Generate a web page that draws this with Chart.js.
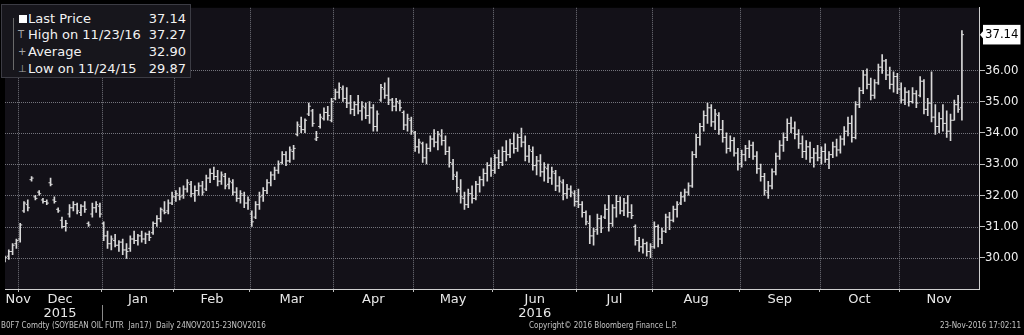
<!DOCTYPE html>
<html>
<head>
<meta charset="utf-8">
<script src="https://cdn.jsdelivr.net/npm/chart.js@4.4.1/dist/chart.umd.min.js"></script>
<style>
  html, body { margin: 0; padding: 0; background: #000; }
  #wrap { position: relative; width: 1024px; height: 335px; overflow: hidden; background: #000; }
  #legend {
    position: absolute; left: 1px; top: 4px; width: 188px; height: 72px;
    background: #17161c; border: 1px solid #3c3c44;
    font: 13px "DejaVu Sans", sans-serif; color: #f2f2f2;
  }
  .row { position: absolute; left: 0; right: 0; height: 16px; line-height: 16px; }
  .lab { position: absolute; left: 26px; }
  .val { position: absolute; right: 4px; }
  .ic { position: absolute; left: 16px; font-size: 10px; color: #a8a8a8; }
  .sq { position: absolute; left: 17px; top: 4px; width: 8px; height: 8px; background: #fff; }
  #stem { position: absolute; left: 11px; top: 13px; width: 1px; height: 52px; background: #6a6a6a; }
  .foot { position: absolute; top: 321px; font: 8px "DejaVu Sans Condensed", "DejaVu Sans", sans-serif; color: #c4c4c4; white-space: pre; }
</style>
</head>
<body>
<div id="wrap">
  <canvas id="chart" width="1024" height="335"></canvas>
  <div id="legend">
    <div id="stem"></div>
    <div class="row" style="top:6px"><span class="sq"></span><span class="lab">Last Price</span><span class="val" id="vLast"></span></div>
    <div class="row" style="top:22px"><span class="ic">T</span><span class="lab" id="lHigh"></span><span class="val" id="vHigh"></span></div>
    <div class="row" style="top:39px"><span class="ic">+</span><span class="lab">Average</span><span class="val" id="vAvg"></span></div>
    <div class="row" style="top:56px"><span class="ic">&#8869;</span><span class="lab" id="lLow"></span><span class="val" id="vLow"></span></div>
  </div>
  <div class="foot" style="left:1px">B0F7 Comdty (SOYBEAN OIL FUTR  Jan17)  Daily 24NOV2015-23NOV2016</div>
  <div class="foot" style="left:529px">Copyright© 2016 Bloomberg Finance L.P.</div>
  <div class="foot" style="right:3px">23-Nov-2016 17:02:11</div>
</div>
<script>
// month axis: first trading-day index of each month, and the label shown for it
const monthStarts = [0, 4, 26, 45, 65, 87, 108, 129, 151, 171, 194, 215, 236];
const monthLabels = ["Nov", ["Dec", "2015"], "Jan", "Feb", "Mar", "Apr", "May", ["Jun", "2016"], "Jul", "Aug", "Sep", "Oct", "Nov"];
const yearStart = 26;

// legend figures
const lastPrice = 37.14;
const highPrice = 37.27;
const avgPrice = 32.90;
const lowPrice = 29.87;
const highDate = "11/23/16";
const lowDate = "11/24/15";

// daily bars, 24 Nov 2015 .. 23 Nov 2016
const opens = [
  29.95, 30.05, 30.20, 30.45, 30.60, 31.50, 31.70, 32.50, 31.95, 32.10,
  31.85, 31.80, 32.40, 31.85, 31.55, 31.20, 31.00, 31.40, 31.60, 31.70,
  31.45, 31.65, 31.10, 31.40, 31.60, 31.65, 31.10, 30.70, 30.45, 30.55,
  30.40, 30.50, 30.25, 30.30, 30.60, 30.55, 30.70, 30.60, 30.75, 30.80,
  31.10, 31.25, 31.50, 31.50, 31.75, 31.95, 32.00, 32.00, 32.20, 32.35,
  32.05, 32.15, 32.30, 32.20, 32.55, 32.70, 32.60, 32.45, 32.60, 32.35,
  32.40, 32.10, 31.90, 32.00, 31.75, 31.40, 31.30, 31.70, 32.00, 32.15,
  32.40, 32.65, 32.80, 33.05, 33.30, 33.10, 33.40, 33.95, 34.20, 34.10,
  34.60, 34.70, 33.80, 34.20, 34.45, 34.65, 34.40, 35.10, 35.30, 35.40,
  35.10, 34.95, 34.75, 34.90, 34.70, 34.80, 34.55, 34.80, 34.20, 35.05,
  35.40, 35.20, 35.05, 34.85, 34.95, 34.65, 34.25, 34.40, 34.00, 33.55,
  33.65, 33.20, 33.50, 33.80, 33.70, 33.90, 33.75, 33.40, 33.00, 32.60,
  32.20, 31.90, 31.70, 32.05, 31.90, 32.35, 32.50, 32.70, 32.95, 32.80,
  33.20, 33.05, 33.40, 33.30, 33.65, 33.50, 33.85, 33.70, 33.25, 33.40,
  32.95, 33.10, 32.75, 32.85, 32.55, 32.70, 32.30, 32.40, 32.05, 32.20,
  32.05, 31.80, 31.70, 31.45, 31.10, 30.70, 30.90, 31.25, 31.30, 31.55,
  31.10, 31.60, 31.80, 31.50, 31.75, 31.45, 31.00, 30.55, 30.35, 30.45,
  30.20, 30.35, 31.00, 30.60, 30.85, 31.30, 31.20, 31.55, 31.75, 31.95,
  32.10, 32.30, 33.30, 33.85, 34.20, 34.55, 34.80, 34.35, 34.55, 34.10,
  33.85, 33.50, 33.75, 33.35, 33.00, 33.30, 33.50, 33.60, 33.25, 32.85,
  32.60, 32.10, 32.30, 32.75, 33.25, 33.60, 33.85, 34.30, 34.15, 33.95,
  33.65, 33.40, 33.55, 33.20, 33.35, 33.20, 33.40, 33.15, 33.30, 33.55,
  33.45, 33.80, 34.05, 34.30, 33.85, 34.90, 35.35, 35.85, 35.55, 35.20,
  35.60, 36.10, 36.30, 35.85, 35.55, 35.80, 35.40, 35.05, 35.30, 35.00,
  35.25, 35.20, 35.65, 34.75, 34.95, 34.50, 34.20, 34.45, 34.30, 34.05,
  34.40, 34.90, 34.80
];
const highs = [
  30.05, 30.25, 30.45, 30.60, 31.10, 31.80, 31.85, 32.60, 32.00, 32.15,
  31.90, 31.85, 32.55, 31.95, 31.60, 31.30, 31.20, 31.70, 31.80, 31.75,
  31.70, 31.80, 31.15, 31.75, 31.80, 31.75, 31.15, 30.85, 30.70, 30.75,
  30.55, 30.60, 30.45, 30.70, 30.85, 30.75, 30.85, 30.80, 30.85, 31.15,
  31.35, 31.60, 31.80, 31.85, 32.10, 32.15, 32.25, 32.30, 32.50, 32.45,
  32.30, 32.40, 32.45, 32.65, 32.85, 32.90, 32.80, 32.75, 32.70, 32.55,
  32.50, 32.25, 32.15, 32.10, 31.95, 31.50, 31.80, 32.10, 32.25, 32.50,
  32.75, 32.90, 33.10, 33.40, 33.40, 33.55, 33.60, 34.35, 34.50, 34.45,
  34.95, 34.75, 34.05, 34.60, 34.80, 34.85, 35.10, 35.40, 35.60, 35.50,
  35.45, 35.20, 35.00, 35.20, 35.00, 34.95, 35.00, 34.90, 34.70, 35.55,
  35.60, 35.76, 35.10, 35.10, 35.05, 34.70, 34.60, 34.50, 34.05, 33.80,
  33.70, 33.65, 33.90, 34.10, 34.05, 34.10, 33.90, 33.55, 33.15, 32.75,
  32.50, 32.10, 32.20, 32.30, 32.45, 32.60, 32.85, 33.05, 33.20, 33.30,
  33.45, 33.55, 33.75, 33.80, 34.00, 33.95, 34.15, 33.90, 33.60, 33.55,
  33.25, 33.30, 33.05, 33.00, 32.90, 32.80, 32.60, 32.50, 32.35, 32.30,
  32.15, 32.20, 31.80, 31.50, 31.35, 30.95, 31.40, 31.35, 31.70, 32.00,
  31.70, 32.00, 31.95, 31.90, 32.00, 31.70, 31.05, 30.65, 30.60, 30.50,
  30.45, 31.15, 31.05, 30.95, 31.40, 31.45, 31.65, 31.80, 32.10, 32.20,
  32.40, 33.40, 33.95, 34.30, 34.70, 34.95, 34.90, 34.75, 34.65, 34.40,
  34.00, 33.90, 33.85, 33.50, 33.45, 33.60, 33.75, 33.70, 33.40, 33.00,
  32.70, 32.45, 32.85, 33.35, 33.75, 34.00, 34.45, 34.50, 34.35, 34.10,
  33.90, 33.75, 33.70, 33.50, 33.60, 33.55, 33.65, 33.40, 33.70, 33.80,
  33.90, 34.20, 34.50, 34.55, 35.00, 35.45, 36.00, 36.05, 35.75, 35.70,
  36.20, 36.50, 36.35, 36.10, 35.95, 35.90, 35.60, 35.45, 35.35, 35.45,
  35.35, 35.80, 35.70, 35.10, 35.95, 34.90, 34.65, 34.90, 34.70, 34.60,
  35.05, 35.20, 37.27
];
const lows = [
  29.87, 29.95, 30.10, 30.30, 30.50, 31.45, 31.50, 32.45, 31.85, 32.00,
  31.75, 31.70, 32.30, 31.75, 31.45, 30.95, 30.85, 31.30, 31.50, 31.40,
  31.35, 31.45, 31.00, 31.30, 31.45, 31.30, 30.55, 30.30, 30.25, 30.35,
  30.20, 30.10, 29.98, 30.20, 30.45, 30.40, 30.50, 30.45, 30.55, 30.75,
  31.00, 31.15, 31.40, 31.40, 31.70, 31.80, 31.85, 31.90, 32.10, 31.95,
  31.80, 32.00, 32.00, 32.15, 32.40, 32.50, 32.30, 32.35, 32.20, 32.20,
  32.00, 31.80, 31.75, 31.60, 31.55, 31.00, 31.25, 31.55, 31.80, 32.05,
  32.30, 32.50, 32.70, 33.00, 32.95, 33.05, 33.15, 33.90, 34.00, 34.00,
  34.55, 34.20, 33.75, 34.15, 34.40, 34.40, 34.35, 35.05, 35.10, 35.00,
  34.80, 34.60, 34.55, 34.60, 34.40, 34.45, 34.30, 34.05, 34.05, 35.00,
  35.10, 34.90, 34.70, 34.70, 34.70, 34.10, 34.05, 33.95, 33.40, 33.35,
  33.05, 33.00, 33.40, 33.55, 33.45, 33.60, 33.30, 32.90, 32.50, 32.10,
  31.75, 31.55, 31.60, 31.75, 31.85, 32.10, 32.30, 32.45, 32.60, 32.70,
  32.85, 32.95, 33.10, 33.20, 33.35, 33.40, 33.55, 33.10, 33.05, 32.80,
  32.65, 32.60, 32.45, 32.40, 32.35, 32.15, 32.10, 31.85, 31.90, 31.95,
  31.65, 31.60, 31.30, 31.05, 30.45, 30.40, 30.75, 30.80, 31.25, 30.85,
  31.00, 31.30, 31.40, 31.35, 31.30, 31.25, 30.40, 30.20, 30.15, 30.05,
  30.00, 30.30, 30.35, 30.45, 30.80, 30.90, 31.15, 31.30, 31.70, 31.80,
  32.00, 32.25, 33.20, 33.60, 34.05, 34.30, 34.20, 34.10, 33.95, 33.70,
  33.35, 33.40, 33.25, 32.80, 32.90, 33.10, 33.20, 33.15, 32.70, 32.45,
  32.00, 31.90, 32.20, 32.65, 33.15, 33.40, 33.75, 34.00, 33.80, 33.50,
  33.20, 33.15, 33.05, 32.90, 33.10, 33.00, 33.05, 32.85, 33.20, 33.25,
  33.35, 33.60, 33.90, 33.70, 33.80, 34.80, 35.25, 35.40, 35.05, 35.10,
  35.55, 35.90, 35.70, 35.40, 35.30, 35.25, 34.95, 34.90, 34.85, 34.95,
  34.80, 35.15, 34.60, 34.55, 34.35, 33.95, 34.00, 34.05, 33.85, 33.75,
  34.40, 34.65, 34.40
];
const closes = [
  30.00, 30.20, 30.40, 30.55, 31.05, 31.75, 31.60, 32.55, 31.90, 32.05,
  31.80, 31.75, 32.35, 31.80, 31.50, 31.00, 31.10, 31.60, 31.70, 31.50,
  31.65, 31.55, 31.05, 31.60, 31.70, 31.40, 30.70, 30.45, 30.60, 30.40,
  30.50, 30.25, 30.20, 30.60, 30.55, 30.70, 30.60, 30.75, 30.65, 31.10,
  31.25, 31.55, 31.45, 31.75, 31.95, 32.05, 31.95, 32.20, 32.40, 32.05,
  32.15, 32.30, 32.10, 32.55, 32.70, 32.60, 32.45, 32.65, 32.30, 32.45,
  32.10, 31.90, 32.05, 31.75, 31.85, 31.15, 31.70, 31.95, 32.15, 32.40,
  32.65, 32.80, 33.00, 33.30, 33.10, 33.45, 33.50, 34.25, 34.10, 34.40,
  34.85, 34.30, 33.85, 34.50, 34.65, 34.55, 35.00, 35.30, 35.45, 35.10,
  34.95, 34.75, 34.90, 34.70, 34.85, 34.55, 34.80, 34.20, 34.60, 35.45,
  35.20, 35.05, 34.85, 35.00, 34.80, 34.25, 34.45, 34.05, 33.55, 33.70,
  33.20, 33.50, 33.80, 33.70, 33.95, 33.75, 33.40, 33.05, 32.65, 32.25,
  31.95, 31.70, 32.05, 31.90, 32.35, 32.50, 32.70, 32.95, 32.80, 33.20,
  33.05, 33.40, 33.30, 33.65, 33.50, 33.85, 33.70, 33.25, 33.45, 32.95,
  33.10, 32.75, 32.90, 32.55, 32.75, 32.30, 32.45, 32.05, 32.20, 32.10,
  31.80, 31.70, 31.45, 31.15, 30.70, 30.85, 31.25, 30.95, 31.55, 31.10,
  31.60, 31.80, 31.50, 31.75, 31.45, 31.35, 30.55, 30.35, 30.45, 30.20,
  30.35, 31.00, 30.60, 30.85, 31.30, 31.20, 31.55, 31.70, 31.95, 32.10,
  32.30, 33.30, 33.85, 34.20, 34.55, 34.80, 34.35, 34.60, 34.10, 33.85,
  33.50, 33.75, 33.35, 33.00, 33.30, 33.50, 33.60, 33.25, 32.85, 32.60,
  32.15, 32.30, 32.75, 33.25, 33.60, 33.85, 34.30, 34.15, 33.95, 33.65,
  33.40, 33.55, 33.20, 33.35, 33.20, 33.40, 33.15, 33.30, 33.55, 33.45,
  33.80, 34.05, 34.30, 33.85, 34.90, 35.35, 35.85, 35.55, 35.20, 35.60,
  36.10, 36.30, 35.85, 35.55, 35.80, 35.40, 35.05, 35.30, 35.00, 35.25,
  34.95, 35.65, 34.75, 34.95, 34.50, 34.20, 34.45, 34.30, 34.05, 34.40,
  34.90, 34.75, 37.14
];

document.getElementById("vLast").textContent = lastPrice.toFixed(2);
document.getElementById("lHigh").textContent = "High on " + highDate;
document.getElementById("vHigh").textContent = highPrice.toFixed(2);
document.getElementById("vAvg").textContent = avgPrice.toFixed(2);
document.getElementById("lLow").textContent = "Low on " + lowDate;
document.getElementById("vLow").textContent = lowPrice.toFixed(2);

const xMin = 0;
const xMax = 256.5;
const boundaries = monthStarts.slice(1).map(s => s - 0.5);
const labelPos = monthStarts.map((s, k) => {
  if (k === 0) return boundaries[0];
  const end = k + 1 < monthStarts.length ? monthStarts[k + 1] - 0.5 : xMax;
  return (s - 0.5 + end) / 2;
});
const yTicks = [lastPrice];
for (let v = 29.5; v <= 37.5; v += 0.5) yTicks.push(v);

const barColor = "#d8d8d8";
const gridColor = "#74747c";
const axisColor = "#cfcfcf";

const isMajor = v => Number.isInteger(v) && v >= 30 && v <= 37;

// dotted grid drawn straight from the scales' own tick pixels
function dottedGrid(chart) {
  const { ctx, chartArea: a } = chart;
  const xs = chart.scales.x;
  const ys = chart.scales.y;
  ctx.save();
  ctx.strokeStyle = gridColor;
  ctx.lineWidth = 1;
  ctx.setLineDash([1, 1]);
  ctx.beginPath();
  xs.ticks.forEach(t => {
    const p = Math.round(xs.getPixelForValue(t.value)) + 0.5;
    ctx.moveTo(p, a.top);
    ctx.lineTo(p, a.bottom);
  });
  ys.ticks.forEach(t => {
    if (!isMajor(t.value)) return;
    const p = Math.round(ys.getPixelForValue(t.value)) + 0.5;
    ctx.moveTo(a.left, p);
    ctx.lineTo(a.right, p);
  });
  ctx.stroke();
  ctx.restore();
}

const frame = {
  id: "frame",
  beforeDraw(chart) {
    const { ctx, chartArea: a } = chart;
    ctx.save();
    ctx.fillStyle = "#131118";
    ctx.fillRect(a.left, a.top, a.right - a.left, a.bottom - a.top);
    ctx.restore();
  },
  beforeDatasetsDraw(chart) {
    dottedGrid(chart);
  },
  afterDraw(chart) {
    const { ctx, chartArea: a } = chart;
    const xs = chart.scales.x;
    const ys = chart.scales.y;
    ctx.save();
    // year separator under the month row
    const px = Math.round(xs.getPixelForValue(yearStart - 0.5)) + 0.5;
    ctx.strokeStyle = "#8a8a8a";
    ctx.lineWidth = 1;
    ctx.beginPath();
    ctx.moveTo(px, a.bottom + 16);
    ctx.lineTo(px, a.bottom + 32);
    ctx.stroke();
    // pointer of the last price tag
    const py = ys.getPixelForValue(lastPrice);
    ctx.fillStyle = "#fff";
    ctx.beginPath();
    ctx.moveTo(ys.left + 1, py);
    ctx.lineTo(ys.left + 6, py - 6);
    ctx.lineTo(ys.left + 6, py + 6);
    ctx.closePath();
    ctx.fill();
    ctx.restore();
  }
};

Chart.defaults.font.family = "DejaVu Sans";

new Chart(document.getElementById("chart"), {
  type: "bar",
  data: {
    datasets: [
      {
        type: "bar",
        label: "High-Low",
        data: highs.map((h, i) => ({ x: i, y: [lows[i], h] })),
        backgroundColor: barColor,
        borderWidth: 0,
        barThickness: 1,
        grouped: false,
        xAxisID: "x",
        yAxisID: "y",
      },
      {
        type: "scatter",
        label: "Open",
        data: opens.map((o, i) => ({ x: i - 0.28, y: o })),
        pointStyle: "line",
        pointRadius: 1,
        pointBorderWidth: 1,
        pointBorderColor: barColor,
        xAxisID: "x",
        yAxisID: "y",
      },
      {
        type: "scatter",
        label: "Close",
        data: closes.map((c, i) => ({ x: i + 0.28, y: c })),
        pointStyle: "line",
        pointRadius: 1,
        pointBorderWidth: 1,
        pointBorderColor: barColor,
        xAxisID: "x",
        yAxisID: "y",
      },
    ],
  },
  options: {
    responsive: false,
    animation: false,
    events: [],
    layout: { padding: { left: 0, right: 0, top: 0, bottom: 14 } },
    scales: {
      x: {
        type: "linear",
        position: "bottom",
        weight: 0,
        min: xMin,
        max: xMax,
        offset: false,
        afterBuildTicks: s => { s.ticks = boundaries.map(v => ({ value: v })); },
        afterFit: s => { s.height = 3; },
        grid: { drawOnChartArea: false, drawTicks: true, tickLength: 3, tickColor: "#bdbdbd", offset: false },
        border: { display: true, color: axisColor, width: 1 },
        ticks: { display: false },
      },
      xm: {
        type: "linear",
        position: "bottom",
        weight: 1,
        min: xMin,
        max: xMax,
        offset: false,
        afterBuildTicks: s => { s.ticks = labelPos.map(v => ({ value: v })); },
        afterFit: s => { s.height = 29; },
        grid: { display: false, drawTicks: false },
        border: { display: false },
        ticks: {
          autoSkip: false,
          maxRotation: 0,
          padding: 0,
          color: "#e8e8e8",
          font: { size: 13, lineHeight: 1.1 },
          callback: (v, i) => monthLabels[i],
        },
      },
      y: {
        type: "linear",
        position: "right",
        min: 29,
        max: 38,
        afterBuildTicks: s => { s.ticks = yTicks.map(v => ({ value: v })); },
        afterFit: s => { s.width = 45; },
        grid: {
          drawOnChartArea: false,
          tickLength: 6,
          tickColor: c => (c.tick.value === lastPrice ? "transparent" : "#bdbdbd"),
        },
        border: { color: axisColor, width: 1 },
        ticks: {
          autoSkip: false,
          padding: 0,
          font: { family: "DejaVu Sans Condensed", size: 13 },
          color: c => (c.tick.value === lastPrice ? "#000" : "#f0f0f0"),
          callback: v => (v === lastPrice || (Number.isInteger(v) && v >= 30 && v <= 36) ? v.toFixed(2) : null),
          showLabelBackdrop: c => c.tick.value === lastPrice,
          backdropColor: "#fff",
          backdropPadding: 2,
        },
      },
    },
    plugins: {
      legend: { display: false },
      tooltip: { enabled: false },
    },
  },
  plugins: [frame],
});
</script>
</body>
</html>
